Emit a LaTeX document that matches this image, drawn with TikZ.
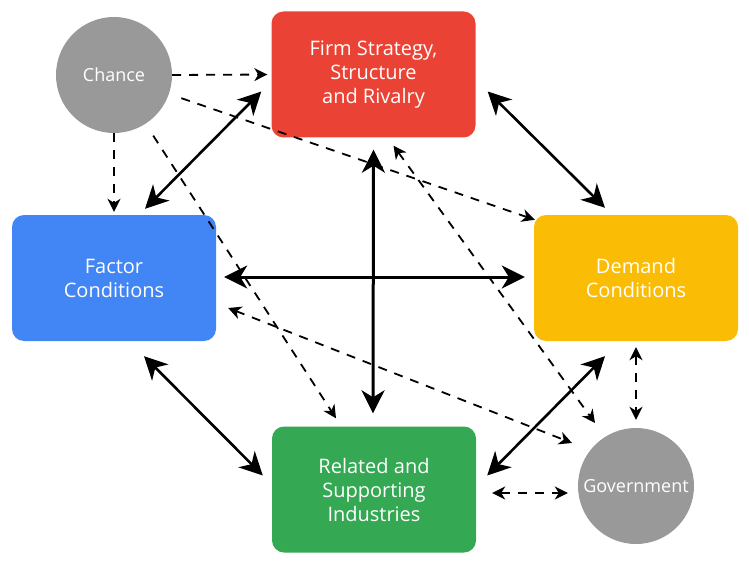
\documentclass[tikz,border=0pt]{standalone}
\usepackage{fontspec}
\setmainfont{Open Sans}
\usetikzlibrary{arrows.meta, calc}
\definecolor{firmred}{HTML}{EA4335}
\definecolor{factorblue}{HTML}{4285F4}
\definecolor{demandyellow}{HTML}{FBBC05}
\definecolor{relatedgreen}{HTML}{34A853}
\definecolor{outsidegray}{HTML}{999999}

\begin{document}
\begin{tikzpicture}[x=1pt, y=-1pt,
  box/.style={rounded corners=12pt, minimum width=204pt, minimum height=126pt, inner sep=0pt,
    align=center, text=white, font=\fontsize{20}{24}\selectfont},
  outside/.style={circle, fill=outsidegray, minimum size=116pt, inner sep=0pt,
    text=white, font=\fontsize{18}{24}\selectfont},
  link/.style={line width=2.6pt, {Stealth[length=23pt,width=23pt,inset=7pt]}-{Stealth[length=23pt,width=23pt,inset=7pt]}},
  influence/.style={line width=1.8pt, dash pattern=on 9pt off 8pt, -{Stealth[length=13pt,width=13pt,inset=4pt]}},
  mutual/.style={influence, {Stealth[length=13pt,width=13pt,inset=4pt]}-{Stealth[length=13pt,width=13pt,inset=4pt]}}]
  \useasboundingbox (0,0) rectangle (749,564);
  % the four determinants
  \node[box, fill=firmred] (firm) at (373.5,74.5) {Firm Strategy,\\Structure\\and Rivalry};
  \node[box, fill=factorblue] (factor) at (114,278) {Factor\\Conditions};
  \node[box, fill=demandyellow] (demand) at (636,278) {Demand\\Conditions};
  \node[box, fill=relatedgreen] (related) at (374,489.5) {Related and\\Supporting\\Industries};
  % outside forces
  \node[outside] (chance) at (114,75) {Chance};
  \node[outside] (gov) at (636,486) {Government};
  % diamond links
  \draw[link] ($(firm.west)+(-10,17)$) -- ($(factor.north)+(31,-6)$);
  \draw[link] ($(firm.east)+(12,17)$) -- ($(demand.north)+(-31,-7)$);
  \draw[link] ($(factor.south)+(30,15)$) -- ($(related.west)+(-9,-14)$);
  \draw[link] ($(demand.south)+(-31,15)$) -- ($(related.east)+(11,-14)$);
  \draw[link, line width=3pt] ($(factor.east)+(8,-1)$) -- ($(demand.west)+(-9,-1)$);
  \draw[link, line width=3pt] ($(firm.south)+(0,12)$) -- ($(related.north)+(-1,-13)$);
  % chance
  \draw[influence, shorten >=4pt] (chance.east) -- (firm.west);
  \draw[influence, shorten >=3pt] (chance.south) -- (factor.north);
  \draw[influence, shorten <=13pt] (chance) -- ($(demand.north west)+(1,5)$);
  \draw[influence, shorten <=14pt] (chance) -- ($(related.north)+(-38,-8)$);
  % government
  \draw[mutual] ($(firm.south)+(20,8)$) -- ($(gov.center)+(-41,-63)$);
  \draw[mutual] ($(factor.east)+(12,30)$) -- ($(gov.center)+(-64,-43)$);
  \draw[mutual, shorten <=6pt, shorten >=8pt] (demand.south) -- (gov.north);
  \draw[mutual] ($(related.east)+(16,3.5)$) -- ($(gov.west)+(-10,7)$);
\end{tikzpicture}
\end{document}
